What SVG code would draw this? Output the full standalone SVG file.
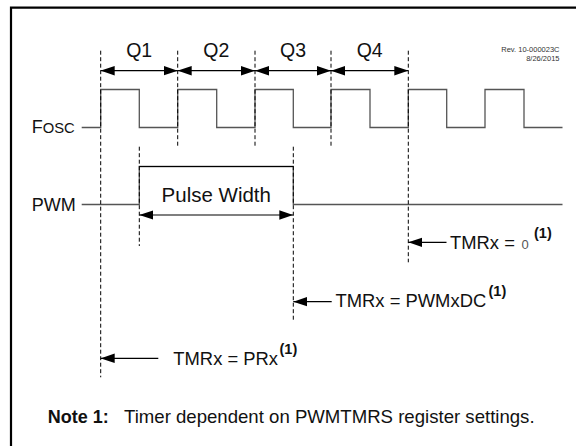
<svg xmlns="http://www.w3.org/2000/svg" width="576" height="446" viewBox="0 0 576 446">
<defs>
<marker id="ah" viewBox="0 0 14 10" refX="14" refY="5" markerWidth="14" markerHeight="10" markerUnits="userSpaceOnUse" orient="auto-start-reverse">
<path d="M0,0.3 L14,5 L0,9.7 Z" fill="#000"/>
</marker>
</defs>
<style>
text{font-family:"Liberation Sans",Arial,sans-serif;fill:#111}
.lbl{font-size:18px}
.q{font-size:19.5px;text-anchor:middle}
.tm{font-size:18.4px}
.sup{font-size:14.5px;font-weight:bold}
.dash{stroke:#000;stroke-width:1;stroke-dasharray:4 2.5;fill:none}
.wave{stroke:#555;stroke-width:1.3;fill:none}
.arr{stroke:#000;stroke-width:1.2;fill:none;marker-end:url(#ah)}
.arr2{stroke:#000;stroke-width:1.2;fill:none;marker-start:url(#ah);marker-end:url(#ah)}
.rev{font-size:7.5px;text-anchor:end;fill:#333}
</style>
<rect width="576" height="446" fill="#fff"/>
<g id="frame">
<path d="M11,446 V7.7 H576" fill="none" stroke="#000" stroke-width="2.2"/>
</g>
<g id="revision">
<text class="rev" x="559.5" y="52.3">Rev. 10-000023C</text>
<text class="rev" x="559.5" y="61.3">8/26/2015</text>
</g>
<g id="fosc">
<text class="lbl" x="31.7" y="133.3">F<tspan font-size="14.8">OSC</tspan></text>
<path class="wave" d="M81.7,127.5 H100.7 V89.5 H139.3 V127.5 H177.7 V89.5 H216.7 V127.5 H255 V89.5 H293.3 V127.5 H331 V89.5 H370 V127.5 H408.3 V89.5 H446.7 V127.5 H485 V89.5 H524 V127.5 H562.5"/>
</g>
<g id="pwm">
<text class="lbl" x="31.7" y="210.7">PWM</text>
<path class="wave" d="M81.7,204.5 H139.3 V166.5 H293.3 V204.5 H562.5"/>
<line x1="139.3" y1="166.5" x2="293.3" y2="166.5" stroke="#000" stroke-width="1"/>
</g>
<g id="q-labels">
<text class="q" x="139.2" y="57.3">Q1</text>
<text class="q" x="216.3" y="57.3">Q2</text>
<text class="q" x="293.1" y="57.3">Q3</text>
<text class="q" x="369.7" y="57.3">Q4</text>
</g>
<g id="pulse-width">
<text x="216.3" y="201.7" font-size="20.5" text-anchor="middle">Pulse Width</text>
</g>
<g id="tmr-0">
<text class="tm" x="450" y="249">TMRx = <tspan x="521.5" font-size="13" fill="#555">0</tspan></text>
<text class="sup" x="534" y="238">(1)</text>
</g>
<g id="tmr-pwmxdc">
<text class="tm" x="335.5" y="307.3">TMRx = PWMxDC</text>
<text class="sup" x="488.5" y="296.3">(1)</text>
</g>
<g id="tmr-prx">
<text class="tm" x="173.3" y="365">TMRx = PRx</text>
<text class="sup" x="279.5" y="354">(1)</text>
</g>
<g id="note">
<text x="47.7" y="423.3" font-size="18" font-weight="bold">Note 1:</text>
<text x="124" y="423.3" font-size="18.6">Timer dependent on PWMTMRS register settings.</text>
</g>
<g id="connectors">
<line class="dash" x1="100.7" y1="50.7" x2="100.7" y2="377.3"/>
<line class="dash" x1="177.7" y1="50.7" x2="177.7" y2="146.7"/>
<line class="dash" x1="255" y1="50.7" x2="255" y2="146.7"/>
<line class="dash" x1="331" y1="50.7" x2="331" y2="146.7"/>
<line class="dash" x1="408.3" y1="50.7" x2="408.3" y2="262.3"/>
<line class="dash" x1="139.3" y1="146.7" x2="139.3" y2="246"/>
<line class="dash" x1="293.3" y1="146.7" x2="293.3" y2="320"/>
<line class="arr2" x1="100.7" y1="70.7" x2="177.7" y2="70.7"/>
<line class="arr2" x1="177.7" y1="70.7" x2="255" y2="70.7"/>
<line class="arr2" x1="255" y1="70.7" x2="331" y2="70.7"/>
<line class="arr2" x1="331" y1="70.7" x2="408.3" y2="70.7"/>
<line class="arr2" x1="139.3" y1="215" x2="293.3" y2="215"/>
<line class="arr" x1="446.5" y1="242.3" x2="408.3" y2="242.3"/>
<line class="arr" x1="331.7" y1="301.7" x2="293.3" y2="301.7"/>
<line class="arr" x1="158.3" y1="358.3" x2="100.7" y2="358.3"/>
</g>
</svg>
